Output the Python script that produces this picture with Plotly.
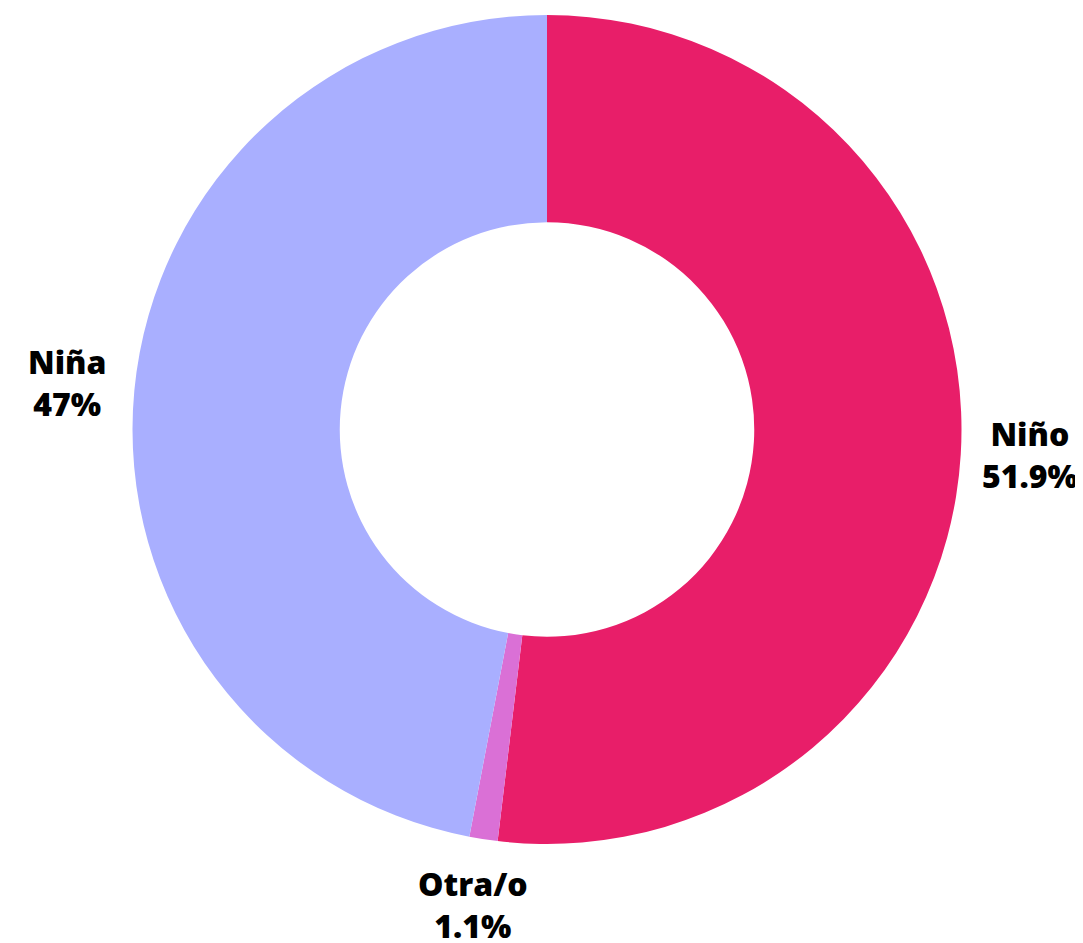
import plotly.graph_objects as go

labels = ["Niño", "Otra/o", "Niña"]
values = [51.9, 1.1, 47.0]
colors = ["#E81E69", "#DA70D6", "#A9AFFF"]

# label placement (style only): Niño uses the pie's own outside text,
# the two others are placed as annotations like in the reference
label_pos = {"Otra/o": (0.4109, -0.0735), "Niña": (-0.0789, 0.5561)}

total = sum(values)
text_font = dict(family="Open Sans", size=32, color="#000000", weight=800)

fig = go.Figure(go.Pie(
    labels=labels,
    values=values,
    hole=0.5,
    sort=False,
    direction="clockwise",
    rotation=0,
    marker=dict(colors=colors, line=dict(width=0)),
    textinfo="label+percent",
    textposition=["none" if l in label_pos else "outside" for l in labels],
    textfont=text_font,
    showlegend=False,
))

for lab, val in zip(labels, values):
    if lab in label_pos:
        x, y = label_pos[lab]
        pct = val / total * 100
        fig.add_annotation(
            x=x, y=y, xref="paper", yref="paper",
            xanchor="center", yanchor="middle",
            text=f"{lab}<br>{pct:.3g}%",
            showarrow=False,
            font=text_font,
        )

fig.update_layout(
    width=1083,
    height=943,
    margin=dict(l=124, r=129, t=7, b=107),
    paper_bgcolor="white",
    plot_bgcolor="white",
)

fig.write_html("out.html")
